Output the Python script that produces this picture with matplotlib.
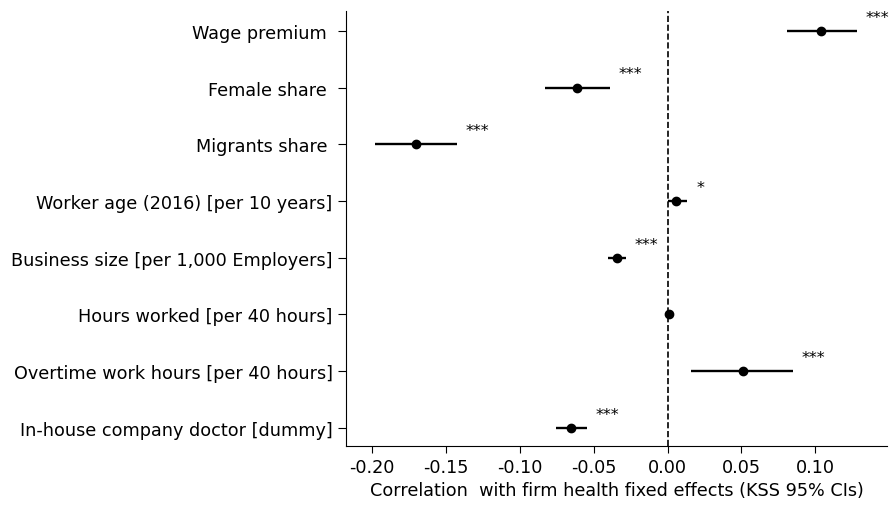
import matplotlib
matplotlib.use("Agg")
import matplotlib.pyplot as plt

# variables, point estimates and KSS 95% confidence bounds
labels = [
    "Wage premium ",
    "Female share ",
    "Migrants share ",
    "Worker age (2016) [per 10 years]",
    "Business size [per 1,000 Employers]",
    "Hours worked [per 40 hours]",
    "Overtime work hours [per 40 hours]",
    "In-house company doctor [dummy]",
]
coef = [0.104, -0.0615, -0.170, 0.006, -0.0345, 0.001, 0.051, -0.0655]
ci_lo = [0.081, -0.083, -0.198, 0.000, -0.040, 0.000, 0.016, -0.0757]
ci_hi = [0.128, -0.039, -0.1426, 0.0135, -0.028, 0.002, 0.085, -0.0547]
stars = ["***", "***", "***", "*", "***", "", "***", "***"]
xticks = [-0.20, -0.15, -0.10, -0.05, 0.00, 0.05, 0.10]

plt.rcParams["font.family"] = "DejaVu Sans"
fig = plt.figure(figsize=(8.89, 5.06), dpi=100)
ax = fig.add_axes([0.389, 0.1166, 0.609, 0.8597])

ypos = list(range(len(labels)))
xerr = [[c - lo for c, lo in zip(coef, ci_lo)], [hi - c for c, hi in zip(coef, ci_hi)]]
ax.errorbar(coef, ypos, xerr=xerr, fmt="o", color="black", ecolor="black",
            elinewidth=1.7, markersize=6, capsize=0)

# significance stars next to the upper bound
for y, hi, s in zip(ypos, ci_hi, stars):
    if s:
        ax.text(hi + 0.006, y - 0.24, s, fontsize=11.5, ha="left", va="center",
                clip_on=False)

ax.axvline(0, color="black", linestyle="--", linewidth=1.2)

ax.set_yticks(ypos)
ax.set_yticklabels(labels, fontsize=12.7)
ax.set_ylim(7.32, -0.35)
ax.set_xlim(-0.2176, 0.1486)
ax.set_xticks(xticks)
ax.set_xticklabels([f"{v:.2f}" for v in xticks], fontsize=12.7)
ax.set_xlabel("Correlation  with firm health fixed effects (KSS 95% CIs)", fontsize=12.7)
ax.tick_params(axis="y", length=6)
ax.tick_params(axis="x", length=5)

ax.spines["top"].set_visible(False)
ax.spines["right"].set_visible(False)

plt.savefig("out.png", dpi=100)
